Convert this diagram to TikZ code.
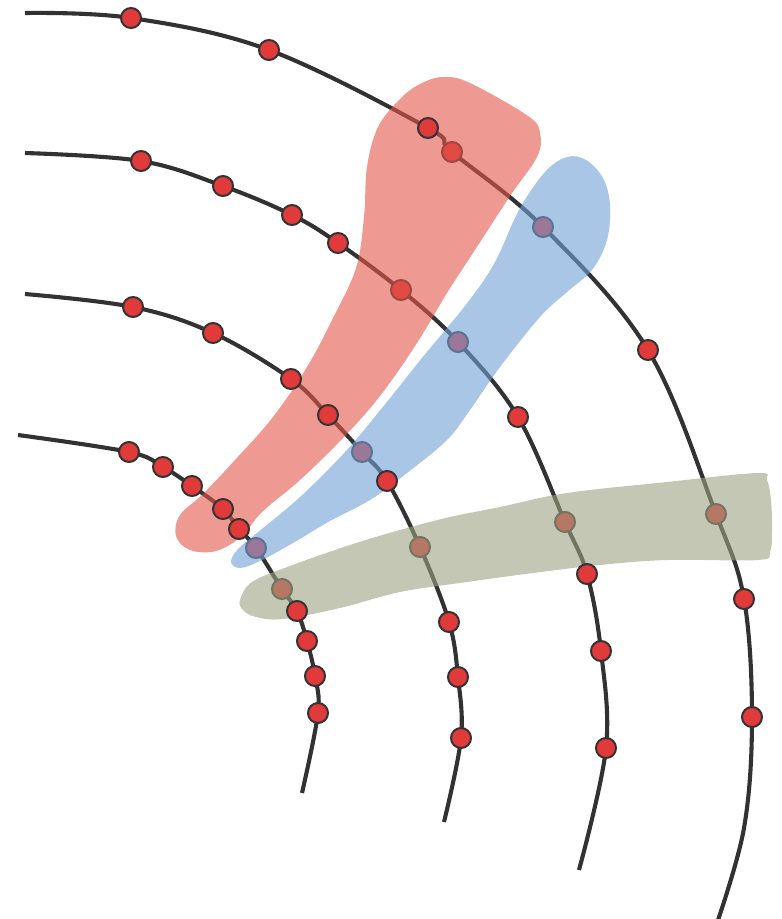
\documentclass[tikz,border=0pt]{standalone}
\definecolor{arcgray}{RGB}{50,50,50}
\definecolor{dotred}{RGB}{224,58,58}
\definecolor{dotborder}{RGB}{51,51,51}
\definecolor{blobred}{RGB}{227,87,73}
\definecolor{blobblue}{RGB}{112,160,213}
\definecolor{blobolive}{RGB}{155,162,128}
\begin{document}
\begin{tikzpicture}[x=1pt,y=-1pt,
  arcline/.style={line width=4.1pt, draw=arcgray},
  reddot/.style={circle, fill=dotred, draw=dotborder, line width=2pt, minimum size=20pt, inner sep=0pt},
  blob/.style={draw=none, fill opacity=0.6}]
\useasboundingbox (0,0) rectangle (782,919);
% ---- arc 1 ----
\coordinate (a1s) at (25,13);
\coordinate (p11) at (131,18);
\coordinate (p12) at (269,50);
\coordinate (p13) at (428,128);
\coordinate (p14) at (452,152);
\coordinate (p15) at (543,227);
\coordinate (p16) at (648,350);
\coordinate (p17) at (716,514);
\coordinate (p18) at (744,599);
\coordinate (p19) at (752,717);
\coordinate (a1m) at (744,828);
\coordinate (a1e) at (716,926);
% ---- arc 2 ----
\coordinate (a2s) at (25,153);
\coordinate (p21) at (141,161);
\coordinate (p22) at (223,186);
\coordinate (p23) at (292,215);
\coordinate (p24) at (338,243);
\coordinate (p25) at (401,290);
\coordinate (p26) at (458,342);
\coordinate (p27) at (518,417);
\coordinate (p28) at (565,522);
\coordinate (p29) at (587,574);
\coordinate (p210) at (601,651);
\coordinate (p211) at (606,748);
\coordinate (a2e) at (579,870);
% ---- arc 3 ----
\coordinate (a3s) at (25,294);
\coordinate (p31) at (133,307);
\coordinate (p32) at (213,333);
\coordinate (p33) at (291,379);
\coordinate (p34) at (328,415);
\coordinate (p35) at (362,452);
\coordinate (p36) at (387,481);
\coordinate (p37) at (420,547);
\coordinate (p38) at (449,622);
\coordinate (p39) at (458,677);
\coordinate (p310) at (461,738);
\coordinate (a3e) at (444,822);
% ---- arc 4 ----
\coordinate (a4s) at (18,435);
\coordinate (p41) at (129,452);
\coordinate (p42) at (163,467);
\coordinate (p43) at (192,486);
\coordinate (p44) at (223,509);
\coordinate (p45) at (239,529);
\coordinate (p46) at (256,548);
\coordinate (p47) at (282,589);
\coordinate (p48) at (297,611);
\coordinate (p49) at (307,641);
\coordinate (p410) at (315,676);
\coordinate (p411) at (318,713);
\coordinate (a4e) at (302,793);

% arcs
\draw[arcline] plot[smooth, tension=0.6] coordinates {(a1s) (p11) (p12) (p13) (p14) (p15) (p16) (p17) (p18) (p19) (a1m) (a1e)};
\draw[arcline] plot[smooth, tension=0.6] coordinates {(a2s) (p21) (p22) (p23) (p24) (p25) (p26) (p27) (p28) (p29) (p210) (p211) (a2e)};
\draw[arcline] plot[smooth, tension=0.6] coordinates {(a3s) (p31) (p32) (p33) (p34) (p35) (p36) (p37) (p38) (p39) (p310) (a3e)};
\draw[arcline] plot[smooth, tension=0.6] coordinates {(a4s) (p41) (p42) (p43) (p44) (p45) (p46) (p47) (p48) (p49) (p410) (p411) (a4e)};

% dots lying under the overlays
\foreach \p in {p14,p25,p15,p26,p35,p46,p17,p28,p37,p47}
  \node[reddot] (n\p) at (\p) {};

% overlays
\fill[blob, fill=blobred] plot[smooth cycle, tension=0.6] coordinates {
  (443,77) (470,83) (528,116) (540,133) (537,157) (510,196) (473,253) (447,293)
  (417,343) (380,396) (343,438) (300,480) (262,512) (242,536) (216,551) (190,550)
  (176,536) (180,515) (203,494) (235,460) (273,417) (307,367) (333,318) (356,268)
  (364,217) (367,167) (378,127) (400,99) (420,84)};
\fill[blob, fill=blobblue] plot[smooth cycle, tension=0.6] coordinates {
  (567,157) (586,160) (603,178) (610,205) (607,240) (592,270) (567,292) (540,317)
  (500,367) (470,410) (447,440) (407,473) (370,500) (330,521) (293,543) (260,561)
  (240,568) (231,562) (238,549) (257,533) (300,497) (345,452) (382,408) (422,358)
  (468,302) (495,262) (519,210) (545,172)};
\fill[blob, fill=blobolive] plot[smooth cycle, tension=0.6] coordinates {
  (240,600) (252,582) (290,566) (350,545) (400,530) (450,517) (500,507) (567,493)
  (667,482) (758,473) (767,480) (771,500) (772,530) (770,552) (758,560) (667,560)
  (600,565) (533,573) (467,582) (400,592) (340,608) (283,619) (256,617) (243,610)};

% dots on top
\foreach \p in {p11,p12,p13,p16,p18,p19,
                p21,p22,p23,p24,p27,p29,p210,p211,
                p31,p32,p33,p34,p36,p38,p39,p310,
                p41,p42,p43,p44,p45,p48,p49,p410,p411}
  \node[reddot] (n\p) at (\p) {};
\end{tikzpicture}
\end{document}
